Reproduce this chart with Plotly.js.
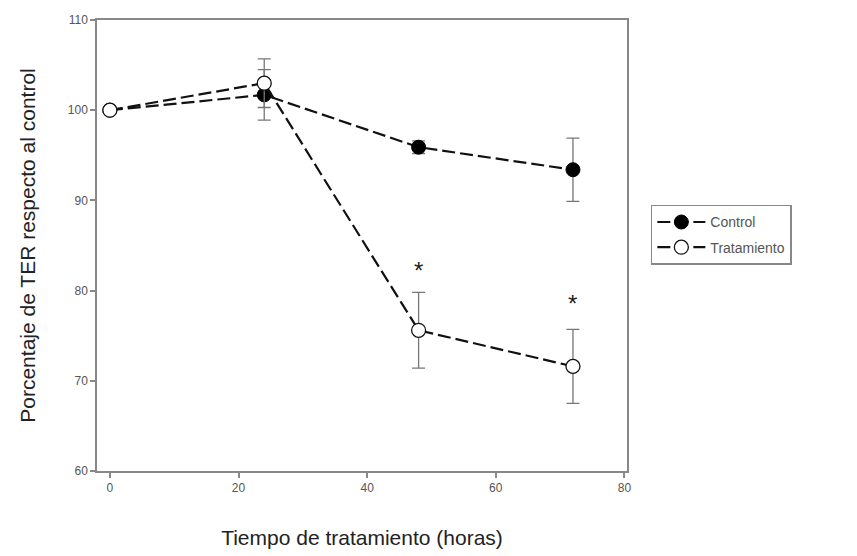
<!DOCTYPE html>
<html><head><meta charset="utf-8">
<script src="https://cdn.plot.ly/plotly-3.0.1.min.js"></script>
<style>body{margin:0;background:#fff}</style></head>
<body><div id="chart" style="width:857px;height:556px"></div>
<script>
const hours = [0, 24, 48, 72];
const controlMean = [100, 101.7, 95.9, 93.4];
const controlErr = [0, 2.8, 0.7, 3.5];
const treatMean = [100, 103.0, 75.6, 71.6];
const treatErr = [0, 2.7, 4.2, 4.1];
const starHours = [48, 72];
const starY = [82.2, 78.6];
const seriesNames = ['Control', 'Tratamiento'];
const xTicks = [0, 20, 40, 60, 80];
const yTicks = [60, 70, 80, 90, 100, 110];

const errStyle = {type: 'data', visible: true, color: '#777', thickness: 1.3, width: 6.5};
const traces = [
  {x: hours, y: controlMean, name: seriesNames[0], mode: 'lines+markers', legendgroup: 'a',
   line: {color: '#111', width: 2.2, dash: '13px,5px'},
   marker: {symbol: 'circle', size: 14, color: '#000', line: {color: '#000', width: 1}},
   error_y: Object.assign({array: controlErr}, errStyle)},
  {x: hours, y: treatMean, name: seriesNames[1], mode: 'lines+markers', legendgroup: 'b',
   line: {color: '#111', width: 2.2, dash: '13px,5px'},
   marker: {symbol: 'circle', size: 14, color: '#fff', line: {color: '#111', width: 1.3}},
   error_y: Object.assign({array: treatErr}, errStyle)}
];
const axisCommon = {showgrid: false, zeroline: false, showline: true, linecolor: '#888', linewidth: 1.5,
  mirror: true, ticks: 'outside', ticklen: 5, tickcolor: '#888', tickwidth: 1.5,
  tickfont: {family: 'Liberation Sans, Arial', size: 12, color: '#555'}};
const layout = {
  width: 857, height: 556,
  margin: {l: 97, r: 230, t: 20, b: 85},
  paper_bgcolor: '#fff', plot_bgcolor: '#fff',
  showlegend: true,
  legend: {x: 1.045, y: 0.59, xanchor: 'left', yanchor: 'top', itemwidth: 48, tracegroupgap: 4,
    bgcolor: '#fff', bordercolor: '#888', borderwidth: 1.5,
    font: {family: 'Liberation Sans, Arial', size: 14, color: '#555'}},
  xaxis: Object.assign({}, axisCommon, {range: [-2, 80.4], tickvals: xTicks,
    title: {text: 'Tiempo de tratamiento (horas)', standoff: 36,
      font: {family: 'Liberation Sans, Arial', size: 21, color: '#222'}}}),
  yaxis: Object.assign({}, axisCommon, {range: [60, 110], tickvals: yTicks,
    title: {text: 'Porcentaje de TER respecto al control', standoff: 26,
      font: {family: 'Liberation Sans, Arial', size: 21, color: '#222'}}}),
  annotations: starHours.map((h, i) => ({x: h, y: starY[i], text: '*', showarrow: false,
    font: {family: 'Liberation Sans, Arial', size: 24, color: '#222'}, yanchor: 'middle'}))
};
Plotly.newPlot('chart', traces, layout, {displayModeBar: false});
</script></body></html>
